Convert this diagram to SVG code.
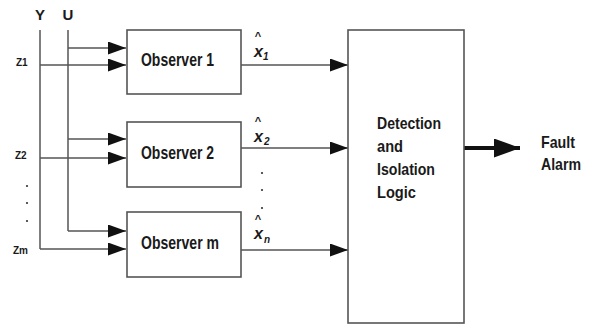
<svg xmlns="http://www.w3.org/2000/svg" width="593" height="326" viewBox="0 0 593 326">
<style>
  .box { fill: #fff; stroke: #555; stroke-width: 1.6; }
  .ln { fill: none; stroke: #555; stroke-width: 1.5; }
  .t { font-family: "Liberation Sans", Arial, sans-serif; font-weight: bold; fill: #1a1a1a; }
  .lbl { font-size: 18px; }
  .lbl2 { font-size: 17px; }
  .sm { font-size: 10px; }
  .hat { font-family: "Liberation Sans", Arial, sans-serif; font-weight: bold; font-size: 11px; fill: #1a1a1a; }
  .xv { font-family: "Liberation Sans", Arial, sans-serif; font-weight: bold; font-style: italic; font-size: 17px; fill: #1a1a1a; }
  .sub { font-family: "Liberation Sans", Arial, sans-serif; font-weight: bold; font-style: italic; font-size: 10px; fill: #1a1a1a; }
</style>
<defs>
  <marker id="ah" markerUnits="userSpaceOnUse" markerWidth="18" markerHeight="13" refX="18" refY="6.5" orient="auto">
    <path d="M0,0 L18,6.5 L0,13 Z" fill="#111"/>
  </marker>
  <marker id="ahb" markerUnits="userSpaceOnUse" markerWidth="26" markerHeight="19" refX="26" refY="9.5" orient="auto">
    <path d="M0,0 L26,9.5 L0,19 Z" fill="#111"/>
  </marker>
</defs>
<rect width="593" height="326" fill="#fff"/>

<g id="inputs">
  <text class="t" x="40" y="20" font-size="15" text-anchor="middle">Y</text>
  <text class="t" x="68" y="20" font-size="15" text-anchor="middle">U</text>
  <text class="t sm" x="16" y="66">Z1</text>
  <text class="t sm" x="15" y="159">Z2</text>
  <text class="t sm" x="13" y="254">Zm</text>
  <circle cx="27" cy="186" r="1.1" fill="#333"/>
  <circle cx="27" cy="203" r="1.1" fill="#333"/>
  <circle cx="27" cy="221" r="1.1" fill="#333"/>
</g>

<g id="connectors">
  <path class="ln" d="M40,30 V249"/>
  <path class="ln" d="M68,30 V231"/>
  <path class="ln" d="M68,48 H126" marker-end="url(#ah)"/>
  <path class="ln" d="M40,65 H126" marker-end="url(#ah)"/>
  <path class="ln" d="M68,139 H126" marker-end="url(#ah)"/>
  <path class="ln" d="M40,158 H126" marker-end="url(#ah)"/>
  <path class="ln" d="M68,231 H126" marker-end="url(#ah)"/>
  <path class="ln" d="M40,249 H126" marker-end="url(#ah)"/>
  <path class="ln" d="M241,65 H348" marker-end="url(#ah)"/>
  <path class="ln" d="M241,148 H348" marker-end="url(#ah)"/>
  <path class="ln" d="M241,250 H348" marker-end="url(#ah)"/>
  <path d="M464,148 H520" fill="none" stroke="#111" stroke-width="4" marker-end="url(#ahb)"/>
</g>

<g id="observer1">
  <rect class="box" x="127" y="30" width="114" height="64"/>
  <text class="t lbl" x="141" y="66" textLength="73" lengthAdjust="spacingAndGlyphs">Observer 1</text>
</g>
<g id="observer2">
  <rect class="box" x="127" y="122" width="114" height="65"/>
  <text class="t lbl" x="141" y="159" textLength="73" lengthAdjust="spacingAndGlyphs">Observer 2</text>
</g>
<g id="observerm">
  <rect class="box" x="127" y="212" width="114" height="65"/>
  <text class="t lbl" x="141" y="249" textLength="78" lengthAdjust="spacingAndGlyphs">Observer m</text>
</g>

<g id="estimates">
  <text class="hat" x="258" y="40" text-anchor="middle">^</text>
  <text class="xv" x="254" y="57" textLength="9" lengthAdjust="spacingAndGlyphs">x</text>
  <text class="sub" x="263" y="60">1</text>
  <text class="hat" x="258" y="125" text-anchor="middle">^</text>
  <text class="xv" x="254" y="142" textLength="9" lengthAdjust="spacingAndGlyphs">x</text>
  <text class="sub" x="264" y="145">2</text>
  <circle cx="262" cy="173" r="1.1" fill="#333"/>
  <circle cx="262" cy="190" r="1.1" fill="#333"/>
  <circle cx="262" cy="208" r="1.1" fill="#333"/>
  <text class="hat" x="258" y="223" text-anchor="middle">^</text>
  <text class="xv" x="254" y="239" textLength="9" lengthAdjust="spacingAndGlyphs">x</text>
  <text class="sub" x="264" y="243">n</text>
</g>

<g id="logic">
  <rect class="box" x="348" y="30" width="116" height="293"/>
  <text class="t lbl2" x="377" y="129" textLength="64" lengthAdjust="spacingAndGlyphs">Detection</text>
  <text class="t lbl2" x="377" y="152" textLength="26" lengthAdjust="spacingAndGlyphs">and</text>
  <text class="t lbl2" x="377" y="175" textLength="58" lengthAdjust="spacingAndGlyphs">Isolation</text>
  <text class="t lbl2" x="377" y="198" textLength="39" lengthAdjust="spacingAndGlyphs">Logic</text>
</g>

<g id="fault">
  <text class="t lbl2" x="541" y="148" textLength="34" lengthAdjust="spacingAndGlyphs">Fault</text>
  <text class="t lbl2" x="541" y="170" textLength="40" lengthAdjust="spacingAndGlyphs">Alarm</text>
</g>
</svg>
